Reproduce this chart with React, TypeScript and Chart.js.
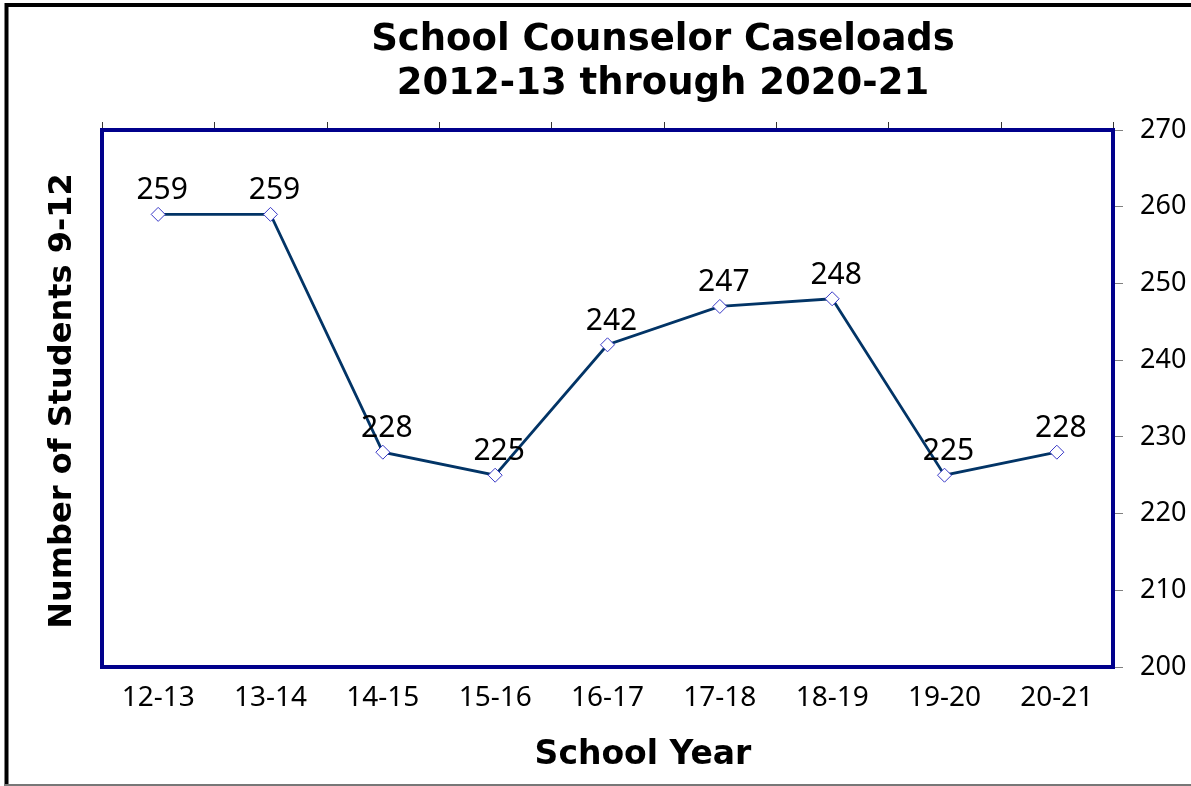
import React, { useEffect, useRef } from 'react';
import { Chart, registerables } from 'chart.js';

Chart.register(...registerables);

const categories = ['12-13', '13-14', '14-15', '15-16', '16-17', '17-18', '18-19', '19-20', '20-21'];
const caseloads = [259, 259, 228, 225, 242, 247, 248, 225, 228];
const yMin = 200;
const yMax = 270;
const yStep = 10;
const titleLines = ['School Counselor Caseloads', '2012-13 through 2020-21'];
const xTitle = 'School Year';
const yTitle = 'Number of Students 9-12';

const BOLD_FONT = "'DejaVu Sans', Verdana, sans-serif";
const FONT = "'Noto Sans', 'DejaVu Sans', sans-serif";
const W = 1191;
const H = 786;

const decorPlugin = {
  id: 'decor',
  beforeDraw(chart: any) {
    const ctx = chart.ctx;
    ctx.save();
    ctx.fillStyle = '#ffffff';
    ctx.fillRect(0, 0, W, H);
    // outer frame
    ctx.strokeStyle = '#000000';
    ctx.lineWidth = 4;
    ctx.beginPath();
    ctx.moveTo(6.5, H);
    ctx.lineTo(6.5, 5);
    ctx.lineTo(W, 5);
    ctx.stroke();
    ctx.strokeStyle = '#777777';
    ctx.lineWidth = 2;
    ctx.beginPath();
    ctx.moveTo(4, 785);
    ctx.lineTo(W, 785);
    ctx.stroke();
    ctx.restore();
  },
  afterDraw(chart: any) {
    const ctx = chart.ctx;
    const a = chart.chartArea;
    const xs = chart.scales.x;
    ctx.save();
    // top tick marks at category boundaries
    ctx.strokeStyle = '#333333';
    ctx.lineWidth = 1;
    for (let i = 0; i <= categories.length; i++) {
      const px = Math.round(xs.getPixelForValue(i - 0.5)) + 0.5;
      ctx.beginPath();
      ctx.moveTo(px, a.top - 8);
      ctx.lineTo(px, a.top);
      ctx.stroke();
    }
    // plot border
    ctx.strokeStyle = '#00008c';
    ctx.lineWidth = 4;
    ctx.strokeRect(a.left, a.top, a.right - a.left, a.bottom - a.top);
    // data labels
    const meta = chart.getDatasetMeta(0);
    ctx.fillStyle = '#000000';
    ctx.font = `30px ${FONT}`;
    ctx.textAlign = 'center';
    ctx.textBaseline = 'alphabetic';
    meta.data.forEach((pt: any, i: number) => {
      ctx.fillText(String(caseloads[i]), pt.x + 4, pt.y - 15);
    });
    // chart title
    ctx.font = `bold 37px ${BOLD_FONT}`;
    ctx.fillText(titleLines[0], 663, 50);
    ctx.fillText(titleLines[1], 663, 94);
    // x title
    ctx.font = `bold 33px ${BOLD_FONT}`;
    ctx.fillText(xTitle, 643, 764);
    // y title
    ctx.font = `bold 32px ${BOLD_FONT}`;
    ctx.translate(71, 401);
    ctx.rotate(-Math.PI / 2);
    ctx.fillText(yTitle, 0, 0);
    ctx.restore();
  },
};

export default function App() {
  const ref = useRef<HTMLCanvasElement>(null);
  useEffect(() => {
    if (!ref.current) return;
    const chart = new Chart(ref.current, {
      type: 'line',
      data: {
        labels: categories,
        datasets: [
          {
            data: caseloads,
            borderColor: '#023466',
            borderWidth: 2.75,
            pointStyle: 'rectRot',
            pointRadius: 7,
            pointBorderColor: '#3a3ac8',
            pointBackgroundColor: '#ffffff',
            pointBorderWidth: 1,
            tension: 0,
          },
        ],
      },
      options: {
        responsive: false,
        animation: false,
        layout: { padding: { left: 102, top: 130, right: 0, bottom: 0 } },
        plugins: { legend: { display: false }, title: { display: false }, tooltip: { enabled: false } },
        scales: {
          x: {
            type: 'category',
            offset: true,
            grid: { display: false, drawTicks: false },
            border: { display: false },
            ticks: { color: '#000000', font: { family: FONT, size: 28 }, padding: 14, maxRotation: 0, autoSkip: false },
            afterFit: (s: any) => { s.height = H - 667; },
          },
          y: {
            position: 'right',
            min: yMin,
            max: yMax,
            grid: { drawOnChartArea: false, drawTicks: true, tickLength: 10, color: '#808080' },
            border: { display: false },
            ticks: { stepSize: yStep, color: '#000000', font: { family: FONT, size: 27 }, padding: 17 },
            afterFit: (s: any) => { s.width = W - 1113; },
          },
        },
      },
      plugins: [decorPlugin],
    });
    return () => chart.destroy();
  }, []);
  return (
    <div style={{ position: 'fixed', left: 0, top: 0, width: W, height: H, background: '#fff' }}>
      <canvas ref={ref} width={W} height={H} style={{ display: 'block', width: W, height: H }} />
    </div>
  );
}
